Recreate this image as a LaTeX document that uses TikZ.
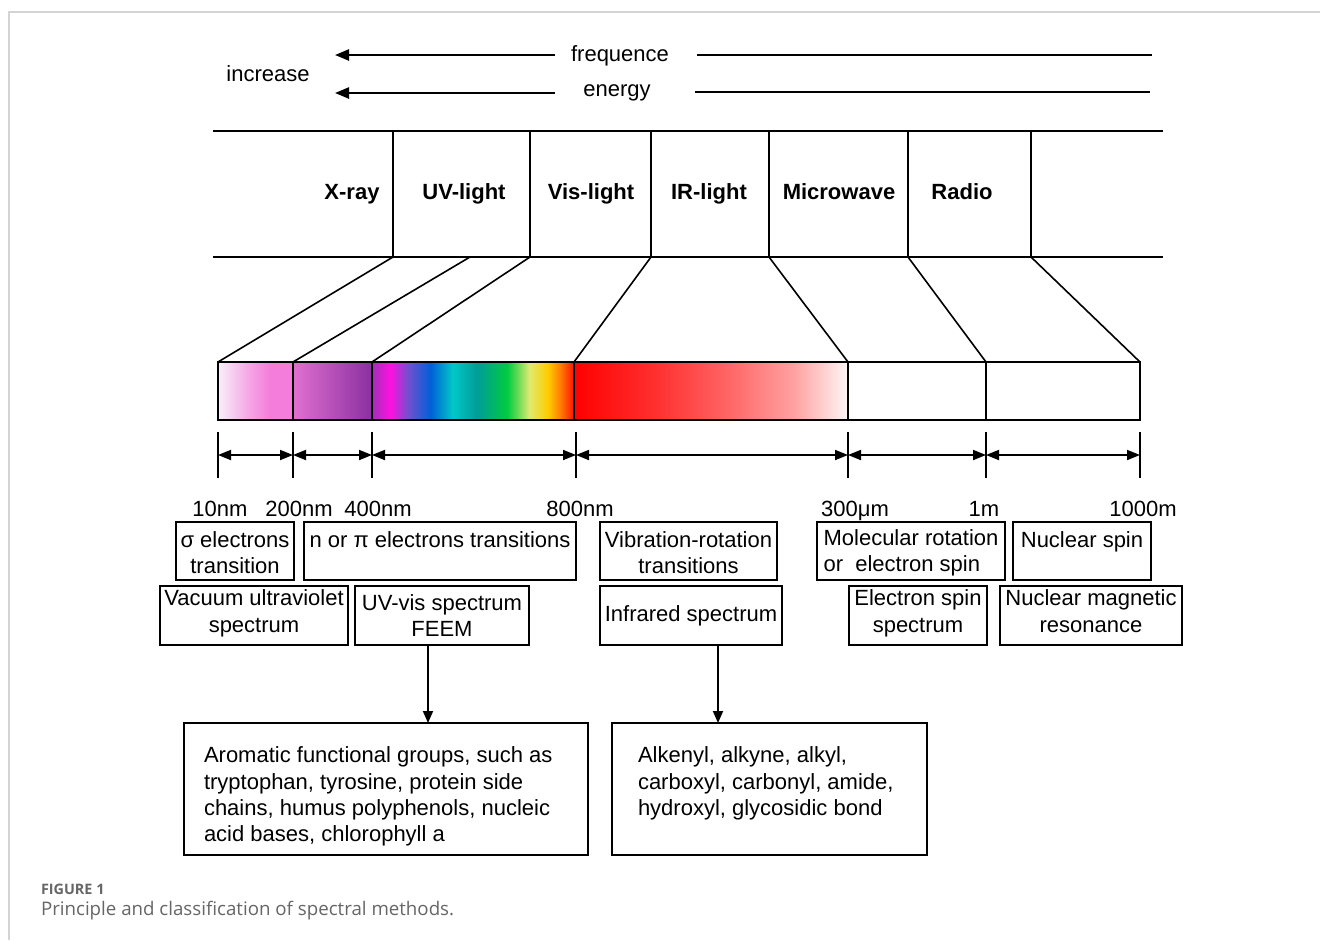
\documentclass[tikz,border=0pt]{standalone}
\usepackage{fontspec}
\setmainfont{Liberation Sans}
\newfontfamily\capfont{Open Sans}
\usetikzlibrary{arrows.meta,calc}
\definecolor{vA}{HTML}{A030B8}
\definecolor{vB}{HTML}{FF10E0}
\definecolor{vC}{HTML}{7050D0}
\definecolor{vD}{HTML}{0060D8}
\definecolor{vE}{HTML}{00C8C8}
\definecolor{vF}{HTML}{009C98}
\definecolor{vG}{HTML}{00CC40}
\definecolor{vH}{HTML}{E0EA70}
\definecolor{vI}{HTML}{FFCC00}
\definecolor{vJ}{HTML}{FF8000}
\definecolor{vK}{HTML}{FF1000}
\definecolor{uA}{HTML}{F8F0F8}
\definecolor{uB}{HTML}{F5A8E6}
\definecolor{uC}{HTML}{F47CDA}
\definecolor{uD}{HTML}{E070D0}
\definecolor{uE}{HTML}{8A30A0}
\definecolor{rA}{HTML}{FF0000}
\definecolor{rB}{HTML}{FF3030}
\definecolor{rC}{HTML}{FF6060}
\definecolor{rD}{HTML}{FFA0A0}
\definecolor{rE}{HTML}{FFF6F6}
\definecolor{framec}{HTML}{D4D4D4}
\definecolor{capc}{HTML}{666666}
\pgfdeclarehorizontalshading{visspec}{100bp}{color(0bp)=(vA); color(25bp)=(vA); color(29.5bp)=(vB); color(34bp)=(vC); color(39.5bp)=(vD); color(45bp)=(vE); color(51bp)=(vF); color(58.5bp)=(vG); color(64bp)=(vH); color(68.5bp)=(vI); color(71.5bp)=(vJ); color(75bp)=(vK); color(100bp)=(vK)}
\pgfdeclarehorizontalshading{uvone}{100bp}{color(0bp)=(uA); color(25bp)=(uA); color(45bp)=(uB); color(60bp)=(uC); color(75bp)=(uC); color(100bp)=(uC)}
\pgfdeclarehorizontalshading{uvtwo}{100bp}{color(0bp)=(uD); color(25bp)=(uD); color(75bp)=(uE); color(100bp)=(uE)}
\pgfdeclarehorizontalshading{irspec}{100bp}{color(0bp)=(rA); color(25bp)=(rA); color(40bp)=(rB); color(52bp)=(rC); color(65bp)=(rD); color(75bp)=(rE); color(100bp)=(rE)}
\tikzset{
  every node/.style={font=\fontsize{22}{26.3}\selectfont, inner sep=0pt, outer sep=0pt},
  bandlbl/.style={font=\fontsize{22}{26.3}\selectfont\bfseries, anchor=base},
  wl/.style={anchor=base},
  box/.style={draw, line width=1.8pt, align=center},
  bandline/.style={line width=2.2pt},
  conv/.style={line width=1.6pt},
  toparr/.style={line width=2.4pt, -{Triangle[length=14pt,width=11pt]}},
  topline/.style={line width=2.4pt},
  tick/.style={line width=2.8pt},
  dim/.style={line width=1.8pt, {Triangle[length=13pt,width=10pt]}-{Triangle[length=13pt,width=10pt]}},
  downarr/.style={line width=1.8pt, -{Triangle[length=12pt,width=10pt]}},
  barline/.style={line width=1.8pt}
}
\begin{document}
\begin{tikzpicture}[x=1pt,y=-1pt]
\useasboundingbox (0,0) rectangle (1320,940);
\fill[white] (0,0) rectangle (1320,940);
\draw[framec, line width=2pt] (9,940) -- (9,12) -- (1320,12);

% top arrows
\node (incr) at (268,74) {increase};
\node (freq) at (620,56) {frequence};
\node (ener) at (617,93) {energy};
\coordinate (fA) at (555,55); \coordinate (fB) at (335,55);
\coordinate (fC) at (697,55); \coordinate (fD) at (1152,55);
\coordinate (eA) at (555,93); \coordinate (eB) at (335,93);
\coordinate (eC) at (695,92); \coordinate (eD) at (1150,92);
\draw[toparr] (fA) -- (fB);
\draw[topline] (fC) -- (fD);
\draw[toparr] (eA) -- (eB);
\draw[topline] (eC) -- (eD);

% band
\draw[bandline] (213,131) -- (1163,131);
\draw[bandline] (213,257) -- (1163,257);
\foreach \x/\n in {393/a,530/b,651/c,769/d,908/e,1031/f}{
  \coordinate (bt\n) at (\x,131);
  \coordinate (bb\n) at (\x,257);
  \draw[bandline] (bt\n) -- (bb\n);
}
\coordinate (bbg) at (470,257);
\node[bandlbl] (xray) at (352,199) {X-ray};
\node[bandlbl] (uvl) at (464,199) {UV-light};
\node[bandlbl] (visl) at (591,199) {Vis-light};
\node[bandlbl] (irl) at (709,199) {IR-light};
\node[bandlbl] (mwl) at (839,199) {Microwave};
\node[bandlbl] (rdl) at (962,199) {Radio};

% spectrum bar
\shade[shading=uvone] (218,362) rectangle (293,420);
\shade[shading=uvtwo] (293,362) rectangle (372,420);
\shade[shading=visspec] (372,362) rectangle (574,420);
\shade[shading=irspec] (574,362) rectangle (848,420);
\draw[barline] (218,362) rectangle (1140,420);
\foreach \x/\n in {218/0,293/1,372/2,574/3,848/4,986/5,1140/6}{
  \coordinate (s\n) at (\x,362);
  \draw[barline] (\x,362) -- (\x,420);
}
\draw[conv] (bba) -- (s0);
\draw[conv] (bbg) -- (s1);
\draw[conv] (bbb) -- (s2);
\draw[conv] (bbc) -- (s3);
\draw[conv] (bbd) -- (s4);
\draw[conv] (bbe) -- (s5);
\draw[conv] (bbf) -- (s6);

% dimension ticks
\foreach \x/\n in {218/0,293/1,372/2,576/3,848/4,986/5,1140/6}{
  \coordinate (d\n) at (\x,455);
  \draw[tick] (\x,432) -- (\x,478);
}
\draw[dim] (d0) -- (d1);
\draw[dim] (d1) -- (d2);
\draw[dim] (d2) -- (d3);
\draw[dim] (d3) -- (d4);
\draw[dim] (d4) -- (d5);
\draw[dim] (d5) -- (d6);

% wavelength labels
\node[wl] (w1) at (220,516) {10nm};
\node[wl] (w2) at (299,516) {200nm};
\node[wl] (w3) at (378,516) {400nm};
\node[wl] (w4) at (580,516) {800nm};
\node[wl] (w5) at (855,516) {300μm};
\node[wl] (w6) at (984,516) {1m};
\node[wl] (w7) at (1143,516) {1000m};

% row 1 boxes
\node[box, minimum width=118pt, minimum height=58pt] (sig) at (235,551) {\rule{0pt}{19pt}σ electrons\\transition};
\node[box, minimum width=272pt, minimum height=58pt] (npi) at (440,551) {\rule{0pt}{19pt}n or π electrons transitions\\\mbox{}};
\node[box, minimum width=177pt, minimum height=58pt] (vib) at (688.5,551) {\rule{0pt}{19pt}Vibration-rotation\\transitions};
\node[box, minimum width=188pt, minimum height=58pt, align=left] (mol) at (911,551) {\rule{0pt}{19pt}Molecular rotation\\or\ \ electron spin};
\node[box, minimum width=138pt, minimum height=58pt] (nuc) at (1082,551) {\rule{0pt}{19pt}Nuclear spin\\\mbox{}};

% row 2 boxes
\node[box, minimum width=188pt, minimum height=59pt] (vac) at (254,615.5) {Vacuum ultraviolet\\spectrum\rule[-9pt]{0pt}{0pt}};
\node[box, minimum width=174pt, minimum height=59pt] (uvv) at (442,615.5) {UV-vis spectrum\\FEEM};
\node[box, minimum width=182pt, minimum height=59pt] (irs) at (691,615.5) {Infrared spectrum};
\node[box, minimum width=138pt, minimum height=59pt] (esr) at (918,615.5) {Electron spin\\spectrum\rule[-9pt]{0pt}{0pt}};
\node[box, minimum width=182pt, minimum height=59pt] (nmr) at (1091,615.5) {Nuclear magnetic\\resonance\rule[-9pt]{0pt}{0pt}};

% bottom boxes
\node[box, minimum width=404pt, minimum height=132pt] (arom) at (386,789) {};
\node[box, minimum width=315pt, minimum height=132pt] (alk) at (769.5,789) {};
\node[anchor=north west, align=left] (aromt) at (204,747) {Aromatic functional groups, such as\\tryptophan, tyrosine, protein side\\chains, humus polyphenols, nucleic\\acid bases, chlorophyll a};
\node[anchor=north west, align=left] (alkt) at (638,747) {Alkenyl, alkyne, alkyl,\\carboxyl, carbonyl, amide,\\hydroxyl, glycosidic bond};

\draw[downarr] ([xshift=-14pt]uvv.south) -- ([xshift=-14pt]uvv.south |- arom.north);
\draw[downarr] ([xshift=27pt]irs.south) -- ([xshift=27pt]irs.south |- alk.north);

% caption
\node[anchor=base west, font=\capfont\bfseries\fontsize{14.4}{17}\selectfont, text=capc] (figno) at (41,894) {FIGURE 1};
\node[anchor=base west, font=\capfont\fontsize{18.7}{22}\selectfont, text=capc] (capt) at (41,915) {Principle and classification of spectral methods.};
\end{tikzpicture}
\end{document}
